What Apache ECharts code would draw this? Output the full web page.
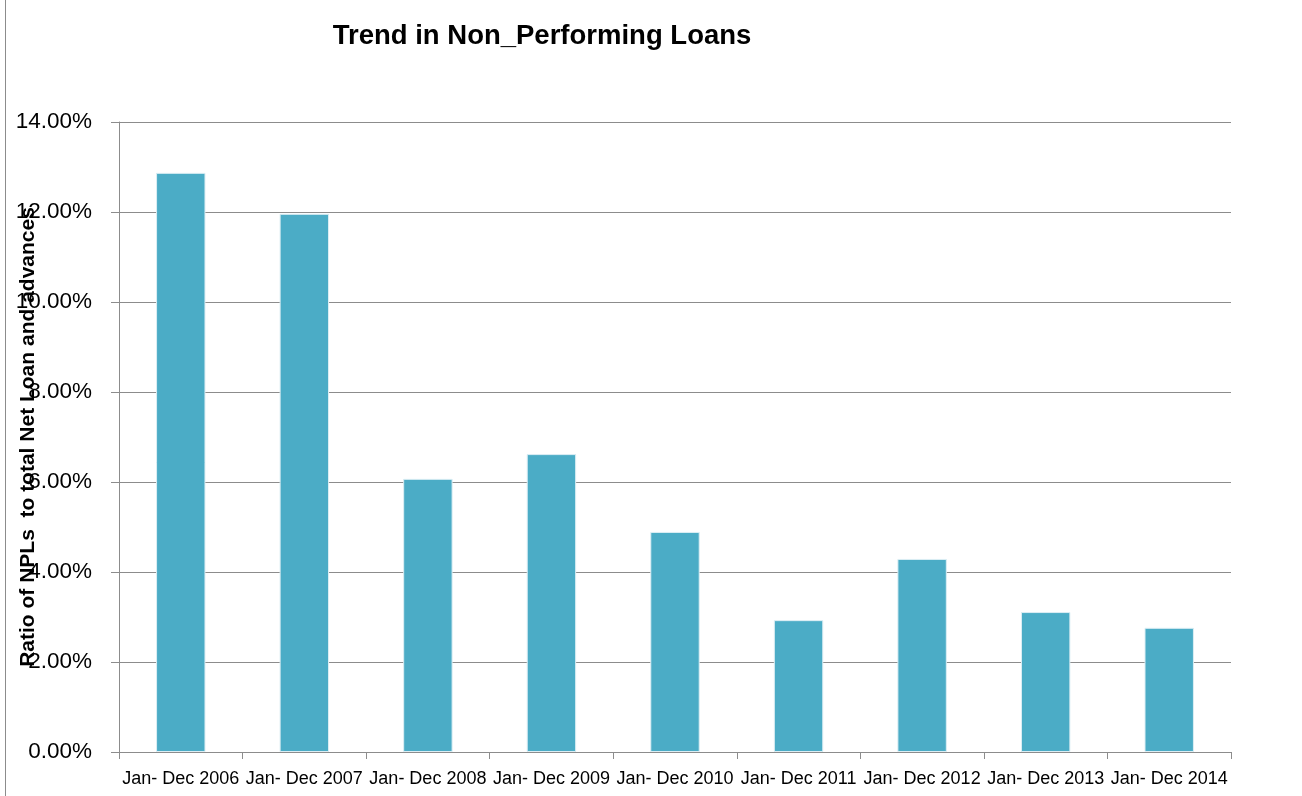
<!DOCTYPE html>
<html><head><meta charset="utf-8">
<script src="https://cdn.jsdelivr.net/npm/echarts@6/dist/echarts.min.js"></script>
<style>html,body{margin:0;padding:0;background:#fff}#c{width:1302px;height:796px}</style>
</head><body><div id="c"></div>
<script>
const categories = ["Jan- Dec 2006","Jan- Dec 2007","Jan- Dec 2008","Jan- Dec 2009","Jan- Dec 2010","Jan- Dec 2011","Jan- Dec 2012","Jan- Dec 2013","Jan- Dec 2014"];
const nplRatio = [12.87, 11.96, 6.07, 6.62, 4.89, 2.93, 4.29, 3.11, 2.76];
const titleText = "Trend in Non_Performing Loans";
const yAxisName = "Ratio of NPLs  to total Net Loan and advances";

const chart = echarts.init(document.getElementById('c'), null, {renderer:'canvas'});
chart.setOption({
  animation:false,
  backgroundColor:'#fff',
  title:{text:titleText,left:537,top:17,textAlign:'center',
    textStyle:{fontFamily:'Liberation Sans',fontWeight:'bold',fontSize:27.5,color:'#000'}},
  graphic:[{type:'line',shape:{x1:5.5,y1:0,x2:5.5,y2:796},style:{stroke:'#8c8c8c',lineWidth:1}}],
  grid:{left:119,right:71,top:122,bottom:44,containLabel:false,outerBoundsMode:'none'},
  xAxis:{type:'category',data:categories,
    axisLine:{lineStyle:{color:'#8c8c8c',width:1}},
    axisTick:{show:true,length:7,lineStyle:{color:'#8c8c8c'}},
    axisLabel:{color:'#000',fontFamily:'Liberation Sans',fontSize:18,margin:18,interval:0,hideOverlap:false}},
  yAxis:{type:'value',min:0,max:14,interval:2,
    name:yAxisName,nameLocation:'middle',nameGap:80,nameRotate:90,nameMoveOverlap:false,
    nameTextStyle:{fontFamily:'Liberation Sans',fontWeight:'bold',fontSize:21,color:'#000'},
    axisLine:{show:true,lineStyle:{color:'#8c8c8c',width:1}},
    axisTick:{show:true,length:8,lineStyle:{color:'#8c8c8c'}},
    splitLine:{lineStyle:{color:'#8c8c8c',width:1}},
    axisLabel:{color:'#000',fontFamily:'Liberation Sans',fontSize:22.5,margin:27,padding:[6,0,0,0],
      formatter:v=>v.toFixed(2)+'%'}},
  series:[{type:'bar',data:nplRatio,barWidth:'40%',
    itemStyle:{color:'#4bacc6',borderColor:'#dceef4',borderWidth:1}}]
});
</script></body></html>
